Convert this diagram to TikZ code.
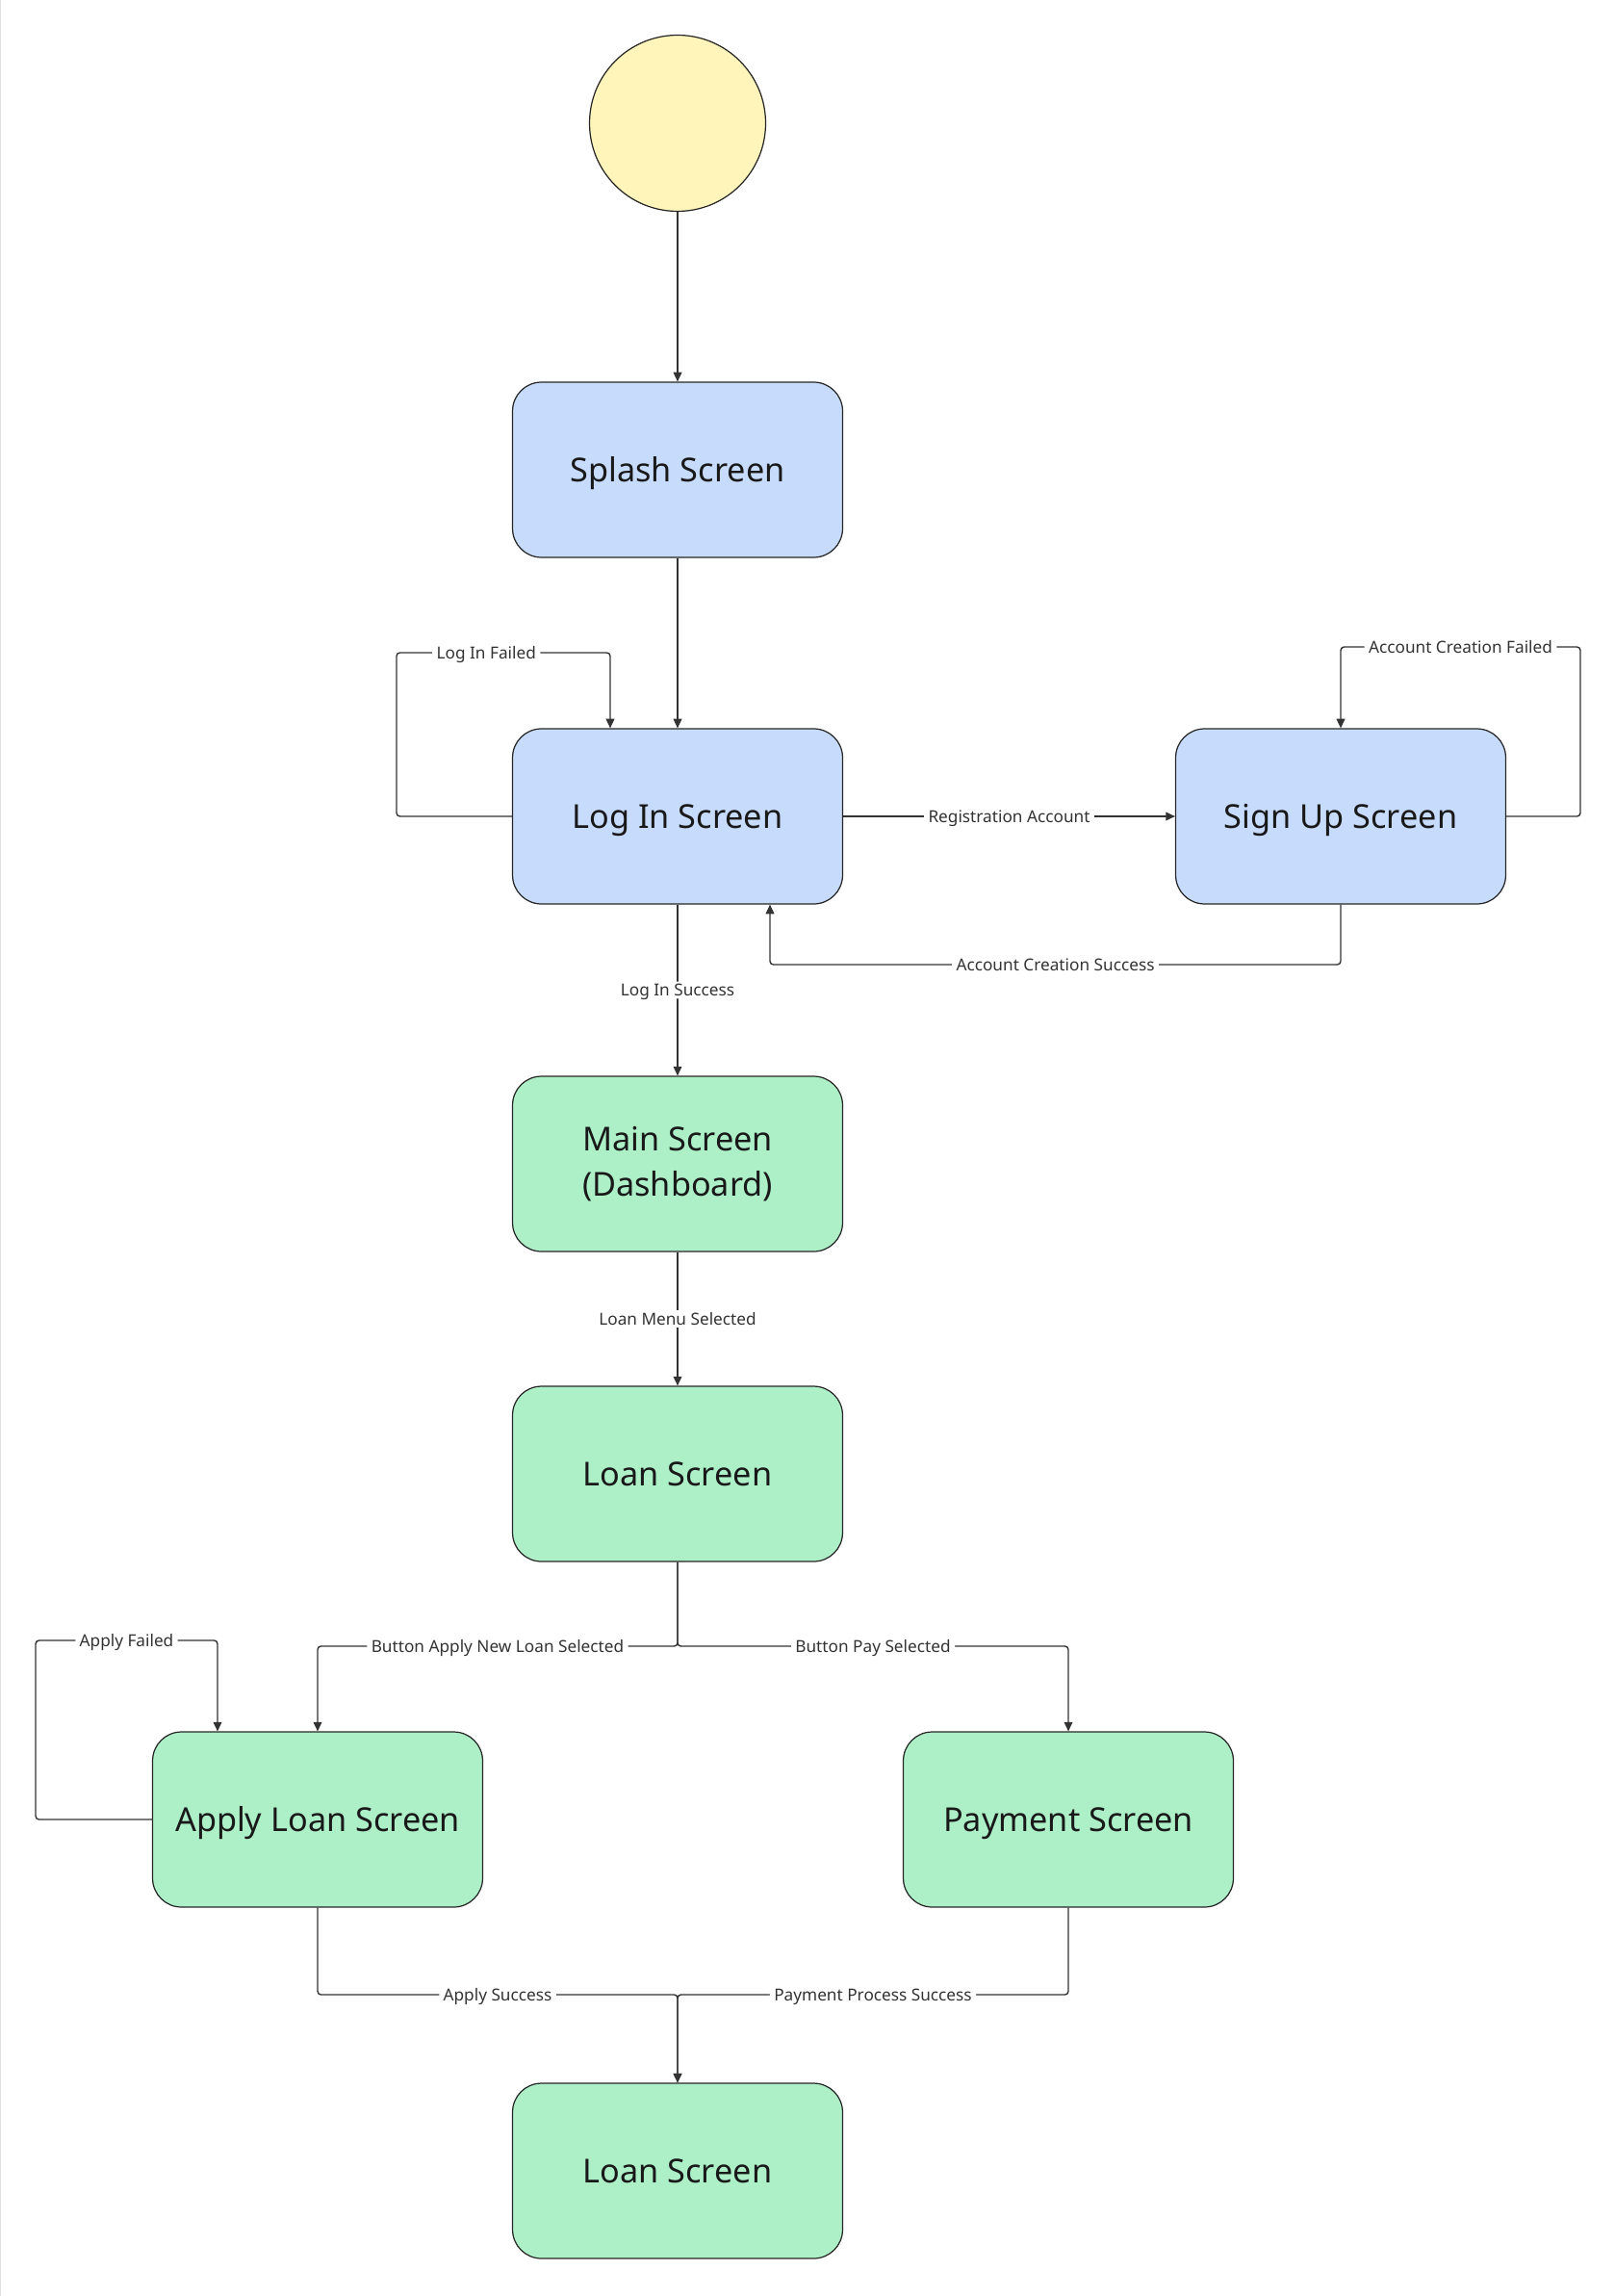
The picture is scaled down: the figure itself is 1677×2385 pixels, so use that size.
\documentclass[tikz,border=0pt]{standalone}
\usepackage{fontspec}
\setmainfont{Noto Sans}
\usetikzlibrary{arrows.meta,positioning}
\definecolor{startfill}{HTML}{FFF5BA}
\definecolor{authfill}{HTML}{C7DCFC}
\definecolor{loanfill}{HTML}{ADF0C8}
\definecolor{linegray}{HTML}{333333}
\tikzset{
    screen/.style={draw=black!85, line width=0.7pt, rounded corners=0.6cm,
        minimum width=6.86cm, minimum height=3.64cm, align=center,
        font=\fontsize{19.5}{26.5}\selectfont, text=black!90,
        text height=14pt, text depth=0pt},
    authscreen/.style={screen, fill=authfill},
    loanscreen/.style={screen, fill=loanfill},
    startstate/.style={circle, draw=black!85, line width=0.7pt, fill=startfill,
        minimum size=3.66cm, inner sep=0pt},
    flow/.style={draw=linegray, line width=0.8pt, rounded corners=2pt,
        -{Triangle[length=5.5pt,width=5pt]}},
    lbl/.style={fill=white, inner xsep=2.5pt, inner ysep=1.5pt, text=linegray,
        font=\fontsize{9.8}{11}\selectfont, text height=7pt, text depth=0pt}
}
\begin{document}
\begin{tikzpicture}[x=0.02cm, y=-0.02cm]
                \useasboundingbox (0,0) rectangle (1677,2385);
                \draw[black!12, line width=0.6pt] (0.5,0) -- (0.5,2385);

                \node[startstate] (start) at (704,128) {};
                \node[authscreen] (splash) at (704,488) {Splash Screen};
                \node[authscreen] (login) at (704,848) {Log In Screen};
                \node[authscreen] (signup) at (1393,848) {Sign Up Screen};
                \node[loanscreen, text height={}, text depth={}] (main) at (704,1209) {\raisebox{-2.5pt}{Main Screen}\\\raisebox{-2.5pt}{(Dashboard)}};
                \node[loanscreen] (loan) at (704,1531) {Loan Screen};
                \node[loanscreen] (apply) at (330,1890) {Apply Loan Screen};
                \node[loanscreen] (payment) at (1110,1890) {Payment Screen};
                \node[loanscreen] (loanend) at (704,2255) {Loan Screen};

                \coordinate (loginfail) at (634,678);
                \coordinate (signfail) at (1393,672);
                \coordinate (signok) at (800,1002);
                \coordinate (split) at (704,1710);
                \coordinate (applyfail) at (226,1704);
                \coordinate (merge) at (704,2072);

                \draw[flow] (start) -- (splash);
                \draw[flow] (splash) -- (login);

                \draw[flow] (login.west) -| (412,678) -- node[lbl, pos=0.42]{Log In Failed} (loginfail) -- (loginfail |- login.north);
                \draw[flow] (login.east) -- node[lbl]{Registration Account} (signup.west);
                \draw[flow] (signup.east) -| (1642,672) -- node[lbl]{Account Creation Failed} (signfail) -- (signup.north);
                \draw[flow] (signup.south) |- node[lbl, pos=0.75]{Account Creation Success} (signok) -- (signok |- login.south);

                \draw[flow] (login) -- node[lbl]{Log In Success} (main);
                \draw[flow] (main) -- node[lbl]{Loan Menu Selected} (loan);

                \draw[flow] (loan.south) -- (split) -| node[lbl, pos=0.25]{Button Apply New Loan Selected} (apply.north);
                \draw[flow] (loan.south) -- (split) -| node[lbl, pos=0.25]{Button Pay Selected} (payment.north);
                \draw[flow] (apply.west) -| (37,1704) -- node[lbl]{Apply Failed} (applyfail) -- (applyfail |- apply.north);

                \draw[flow] (apply.south) |- node[lbl, pos=0.75]{Apply Success} (merge) -- (loanend.north);
                \draw[flow] (payment.south) |- node[lbl, pos=0.75]{Payment Process Success} (merge) -- (loanend.north);
\end{tikzpicture}
\end{document}
